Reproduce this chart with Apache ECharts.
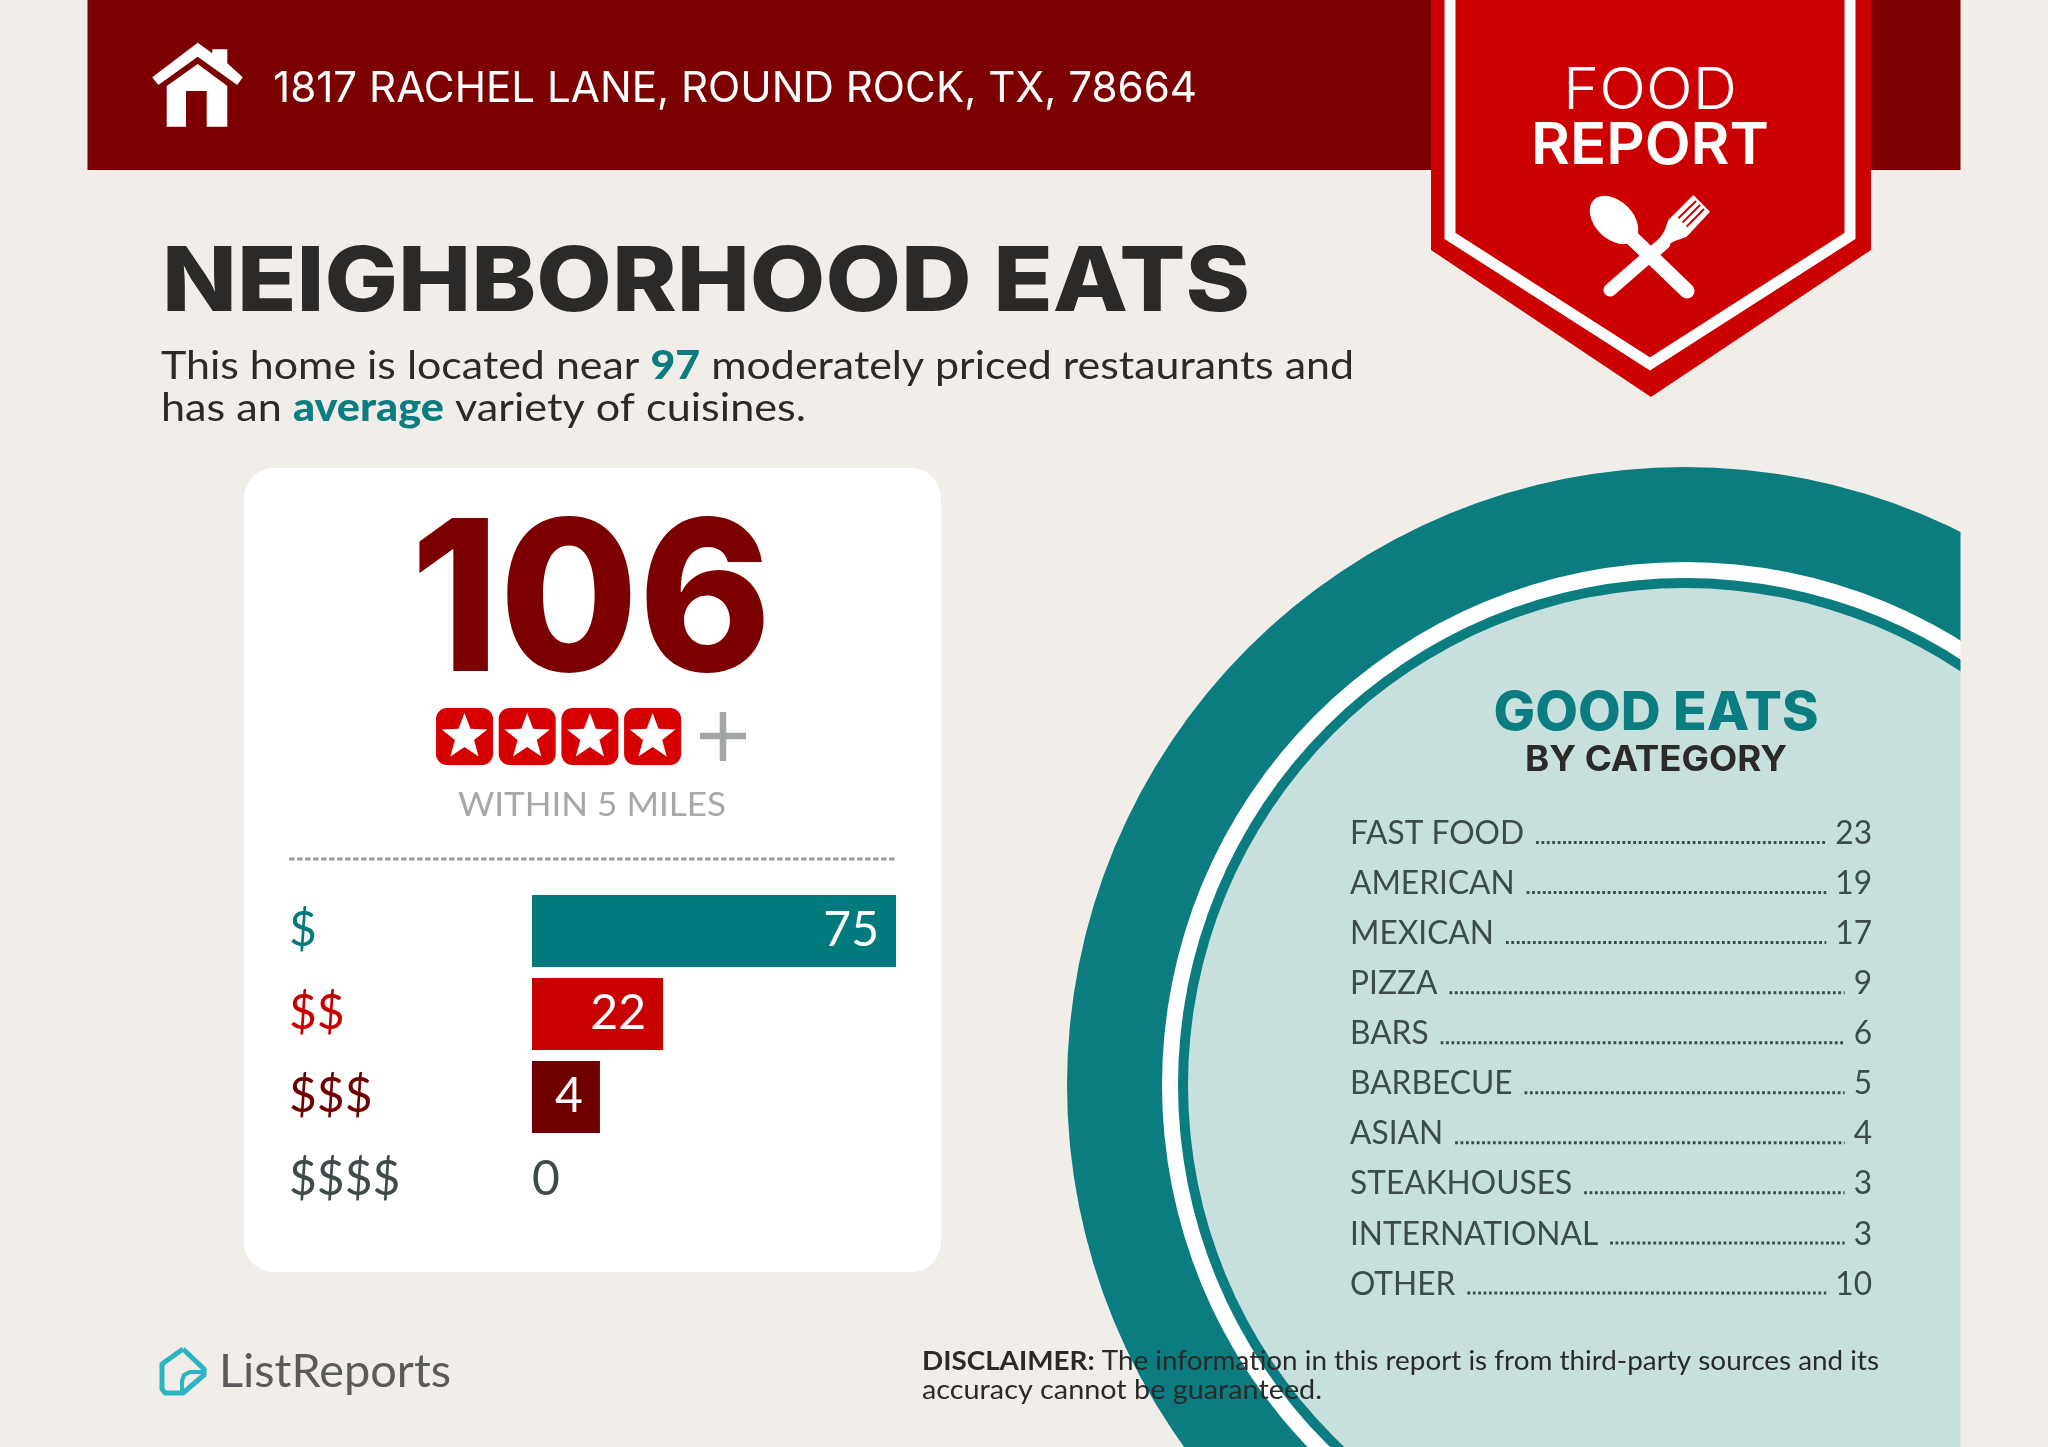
<!DOCTYPE html>
<html>
<head>
<meta charset="UTF-8">
<title>Neighborhood Eats</title>
<script src="https://cdn.jsdelivr.net/npm/echarts@6/dist/echarts.min.js"></script>
<style>
html,body{margin:0;padding:0;background:#f1ede9;}
#container{width:2048px;height:1447px;}
</style>
</head>
<body>
<div id="container"></div>
<script type="text/javascript">
// price tiers
var priceTiers = ['$', '$$', '$$$', '$$$$'];
var tierCounts = [75, 22, 4, 0];
// bar lengths, on the scale of the longest bar.
// the original draws its short bars longer than their counts would give
var tierBarLengths = [75, 27, 14, 0];
var tierColors = ['#007a7c', '#c80000', '#700000', '#3f4b4b'];

// good eats by category
var categoryNames = ['FAST FOOD', 'AMERICAN', 'MEXICAN', 'PIZZA', 'BARS', 'BARBECUE', 'ASIAN', 'STEAKHOUSES', 'INTERNATIONAL', 'OTHER'];
var categoryCounts = [23, 19, 17, 9, 6, 5, 4, 3, 3, 10];

var totalCount = 106;
var starCount = 4;

var TEAL = '#0b7d80', RED = '#cc0000', DARKRED = '#7d0000', INK = '#2b2a29', BG = '#f1ede9', ROW = '#3d4b4b';
var SANS = 'Lato', HEAD = 'Inter';

var ctx = document.createElement('canvas').getContext('2d');
function measure(str, size, weight, family) {
	ctx.font = weight + ' ' + size + 'px "' + family + '"';
	return ctx.measureText(str).width;
}

// text element, stretched to width w when w is given
function txt(str, x, y, size, color, o) {
	o = o || {};
	var family = o.family || SANS, weight = o.weight || 400;
	var sx = o.w ? o.w / measure(str, size, weight, family) : (o.sx || 1);
	return {
		type: 'text', x: x, y: y, scaleX: sx,
		style: {
			text: str, fill: color, fontFamily: family, fontSize: size, fontWeight: weight,
			align: o.align || 'left', verticalAlign: 'middle'
		}
	};
}

// one line made of several styled pieces, fitted to width w
function pieces(list, x, y, size, w, family) {
	var total = 0, out = [];
	list.forEach(function (p) { total += measure(p.t, size, p.weight || 400, family); });
	var sx = w / total;
	list.forEach(function (p) {
		out.push(txt(p.t, x, y, size, p.color, { sx: sx, weight: p.weight || 400, family: family }));
		x += measure(p.t, size, p.weight || 400, family) * sx;
	});
	return out;
}

function starPoints(cx, cy, r) {
	var pts = [];
	for (var i = 0; i < 10; i++) {
		var rr = i % 2 ? r * 0.42 : r, a = -Math.PI / 2 + i * Math.PI / 5;
		pts.push([cx + rr * Math.cos(a), cy + rr * Math.sin(a)]);
	}
	return pts;
}

function bp(list) {
	return list.map(function (p) { return [1400 + p[0] / 3, p[1] / 3]; });
}

var g = [];

// plate, cut off by the page margin on the right
g.push({ type: 'circle', shape: { cx: 1685, cy: 1085, r: 618 }, style: { fill: TEAL } });
g.push({ type: 'circle', shape: { cx: 1685, cy: 1085, r: 523 }, style: { fill: '#ffffff' } });
g.push({ type: 'circle', shape: { cx: 1685, cy: 1085, r: 507 }, style: { fill: TEAL } });
g.push({ type: 'circle', shape: { cx: 1685, cy: 1085, r: 497 }, style: { fill: '#c7e0de' } });
g.push({ type: 'rect', shape: { x: 1960.5, y: 0, width: 88, height: 1447 }, style: { fill: BG } });

// top banner
g.push({ type: 'rect', shape: { x: 87.5, y: 0, width: 1873, height: 170 }, style: { fill: DARKRED } });
// house, roof and chimney then body
g.push({
	type: 'polygon', style: { fill: '#ffffff' },
	shape: { points: [[197.7, 42.7], [212.3, 53.3], [212.3, 49.3], [227.3, 49.3], [227.3, 63.3], [242.7, 77.3], [237.3, 85], [197.7, 56.7], [158.3, 85], [152.3, 77.3]] }
});
g.push({
	type: 'polygon', style: { fill: '#ffffff' },
	shape: { points: [[197.7, 64], [227.3, 86], [227.3, 126.7], [206.7, 126.7], [206.7, 91], [186, 91], [186, 126.7], [166.7, 126.7], [166.7, 86]] }
});
g.push(txt('1817 RACHEL LANE, ROUND ROCK, TX, 78664', 273, 89, 42, '#ffffff', { w: 924, family: HEAD }));

// ribbon
g.push({ type: 'polygon', style: { fill: RED }, shape: { points: [[1431, 0], [1871, 0], [1871, 250], [1651, 397], [1431, 250]] } });
g.push({
	type: 'polyline', style: { stroke: '#ffffff', lineWidth: 11, fill: null },
	shape: { points: [[1450, 0], [1450, 236], [1650, 364], [1850, 236], [1850, 0]] }
});
g.push(txt('FOOD', 1650, 92, 58, '#ffffff', { w: 174, align: 'center', family: HEAD, weight: 300 }));
g.push(txt('REPORT', 1650, 147, 58, '#ffffff', { w: 238, align: 'center', family: HEAD, weight: 600 }));

// fork behind spoon
g.push({ type: 'line', shape: { x1: 1610, y1: 290, x2: 1664, y2: 243 }, style: { stroke: '#ffffff', lineWidth: 13, lineCap: 'round' } });
g.push({
	type: 'polygon', style: { fill: '#ffffff' },
	shape: { points: bp([[770, 730], [793, 693], [805, 660], [880, 585], [930, 635], [860, 710], [825, 723], [790, 740]]) }
});
[[[835, 655], [888, 603]], [[848, 667], [900, 615]], [[860, 680], [912, 627]]].forEach(function (slot) {
	var p = bp(slot);
	g.push({ type: 'line', shape: { x1: p[0][0], y1: p[0][1], x2: p[1][0], y2: p[1][1] }, style: { stroke: RED, lineWidth: 2 } });
});
// spoon
g.push({ type: 'circle', x: 1614, y: 220, rotation: -Math.PI / 4, scaleX: 1.5, shape: { cx: 0, cy: 0, r: 19 }, style: { fill: '#ffffff' } });
g.push({ type: 'line', shape: { x1: 1632, y1: 238, x2: 1687, y2: 291 }, style: { stroke: '#ffffff', lineWidth: 15, lineCap: 'round' } });

// heading
g.push(txt('NEIGHBORHOOD EATS', 162, 284, 90, INK, { w: 1088, family: HEAD, weight: 800 }));
pieces([
	{ t: 'This home is located near ', color: INK },
	{ t: '97', color: TEAL, weight: 900 },
	{ t: ' moderately priced restaurants and', color: INK }
], 161, 366, 39, 1193, SANS).forEach(function (e) { g.push(e); });
pieces([
	{ t: 'has an ', color: INK },
	{ t: 'average', color: TEAL, weight: 900 },
	{ t: ' variety of cuisines.', color: INK }
], 161, 408, 39, 645, SANS).forEach(function (e) { g.push(e); });

// white card
g.push({ type: 'rect', shape: { x: 244, y: 468, width: 697, height: 804, r: 30 }, style: { fill: '#ffffff' } });
g.push(txt(String(totalCount), 591, 608, 210, DARKRED, { w: 361, align: 'center', family: HEAD, weight: 800 }));
for (var s = 0; s < starCount; s++) {
	var bx = 436 + s * 62.7;
	g.push({ type: 'rect', shape: { x: bx, y: 708, width: 57, height: 57, r: 11 }, style: { fill: '#d60000' } });
	g.push({ type: 'polygon', shape: { points: starPoints(bx + 28.5, 737, 24) }, style: { fill: '#ffffff' } });
}
g.push({ type: 'line', shape: { x1: 700, y1: 736, x2: 746, y2: 736 }, style: { stroke: '#a3a6a6', lineWidth: 6.5 } });
g.push({ type: 'line', shape: { x1: 723, y1: 712, x2: 723, y2: 761 }, style: { stroke: '#a3a6a6', lineWidth: 6.5 } });
g.push(txt('WITHIN 5 MILES', 592, 805, 33, '#a5a8a8', { w: 268, align: 'center' }));
g.push({ type: 'line', shape: { x1: 289, y1: 859, x2: 896, y2: 859 }, style: { stroke: '#9c9c9c', lineWidth: 3, lineDash: [5.5, 2.5] } });

// category panel
g.push(txt('GOOD EATS', 1656, 714, 53, TEAL, { w: 325, align: 'center', family: HEAD, weight: 800 }));
g.push(txt('BY CATEGORY', 1656, 760, 35, INK, { w: 262, align: 'center', family: HEAD, weight: 700 }));
categoryNames.forEach(function (name, i) {
	var rowY = 833.5 + i * 50.05;
	var count = String(categoryCounts[i]);
	var sx = 0.96;
	var nameW = measure(name, 33, 400, SANS) * sx;
	var countW = measure(count, 33, 400, SANS) * sx;
	g.push(txt(name, 1350, rowY, 33, ROW, { sx: sx }));
	g.push(txt(count, 1872, rowY, 33, ROW, { sx: sx, align: 'right' }));
	g.push({
		type: 'line', shape: { x1: 1350 + nameW + 12, y1: rowY + 9, x2: 1872 - countW - 9, y2: rowY + 9 },
		style: { stroke: ROW, lineWidth: 3, lineDash: [2.8, 2.6] }
	});
});

// footer
g.push({
	type: 'polyline', style: { stroke: '#2ab4c4', lineWidth: 5, fill: null, lineJoin: 'round' },
	shape: { points: [[183, 1349], [204, 1369], [204, 1375], [183, 1393], [165, 1393], [162, 1389], [162, 1364], [183, 1349]] }
});
g.push({
	type: 'polyline', style: { stroke: '#2ab4c4', lineWidth: 4, fill: null, lineJoin: 'round' },
	shape: { points: [[204, 1372], [190, 1372], [184, 1375], [182, 1381], [182, 1393]] }
});
g.push(txt('ListReports', 219, 1372, 46, '#5b5b5b', { w: 232 }));
pieces([
	{ t: 'DISCLAIMER:', color: INK, weight: 700 },
	{ t: ' The information in this report is from third-party sources and its', color: INK }
], 922, 1361, 27, 957, SANS).forEach(function (e) { g.push(e); });
g.push(txt('accuracy cannot be guaranteed.', 922, 1390, 27, INK, { w: 400 }));

var myChart = echarts.init(document.getElementById('container'), null, { renderer: 'canvas' });
var option = {
	animation: false,
	backgroundColor: BG,
	graphic: { elements: g },
	grid: { left: 532, top: 889.5, width: 364, height: 332, containLabel: false },
	xAxis: { type: 'value', min: 0, max: 75, show: false },
	yAxis: {
		type: 'category', inverse: true,
		data: priceTiers.map(function (t, i) {
			return { value: t, textStyle: { color: tierColors[i], align: 'left' } };
		}),
		axisLine: { show: false }, axisTick: { show: false }, splitLine: { show: false },
		axisLabel: { align: 'left', margin: 243, fontFamily: SANS, fontSize: 48 }
	},
	series: [{
		type: 'bar',
		barWidth: 72,
		data: tierBarLengths.map(function (v, i) {
			return {
				value: v,
				itemStyle: { color: tierColors[i] },
				label: tierCounts[i] === 0
					? { position: 'right', distance: 0, color: tierColors[i] }
					: { position: 'insideRight', distance: 17, color: '#ffffff' }
			};
		}),
		label: {
			show: true, fontFamily: SANS, fontSize: 48,
			formatter: function (p) { return tierCounts[p.dataIndex]; }
		}
	}]
};
myChart.setOption(option);
</script>
</body>
</html>
